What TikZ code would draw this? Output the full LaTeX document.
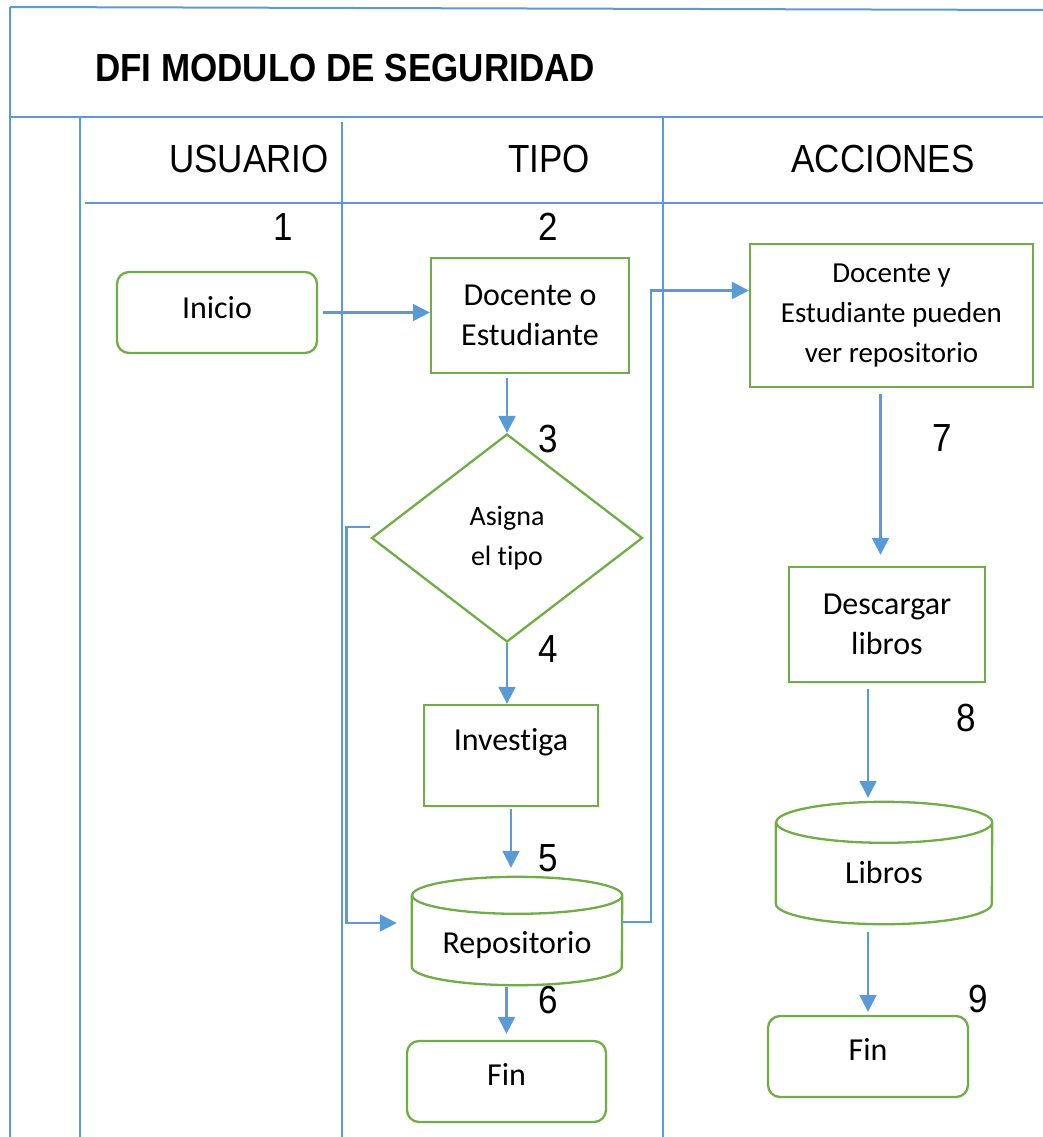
\documentclass[tikz,border=0pt]{standalone}
\usepackage{fontspec}
\usepackage{graphicx}
\setmainfont[Ligatures=NoCommon]{Carlito}
\newfontfamily\arialfont{Liberation Sans}
\usetikzlibrary{arrows.meta,shapes.geometric}
\definecolor{lineblue}{HTML}{5B9BD5}
\definecolor{boxgreen}{HTML}{70AD47}
\newcommand{\tall}[1]{\scalebox{1}[1.12]{#1}}
\begin{document}
\begin{tikzpicture}[x=1pt,y=-1pt,
  lane/.style={lineblue, line width=2pt},
  flow/.style={lineblue, line width=2.3pt, -{Triangle[length=17pt,width=17pt]}},
  box/.style={draw=boxgreen, line width=2.3pt, inner sep=0pt, align=center,
    font=\fontsize{32}{40}\selectfont},
  startstop/.style={box, rounded corners=12pt},
  decide/.style={box, diamond, font=\fontsize{28}{40}\selectfont},
  store/.style={inner sep=0pt, font=\fontsize{32}{40}\selectfont},
  outline/.style={draw=boxgreen, line width=2.3pt},
  head/.style={inner sep=0pt, font=\arialfont\fontsize{35}{40}\selectfont},
  num/.style={head, anchor=base}]
  \useasboundingbox (0,0) rectangle (1043,1137);
  %Frame and lanes
  \draw[lane] (10,7) -- (1043,10);
  \draw[lane] (10,7) -- (10,1137);
  \draw[lane] (10,117) -- (1043,117);
  \draw[lane] (80,117) -- (80,1137);
  \draw[lane] (342,122) -- (342,1137);
  \draw[lane] (663,117) -- (663,1137);
  \draw[lane] (85,203) -- (1043,203);
  %Title and lane headers
  \node[head, font=\arialfont\bfseries\fontsize{35}{40}\selectfont, anchor=base west] (title) at (95,82) {\tall{DFI MODULO DE SEGURIDAD}};
  \node[num] (usuario) at (249,172) {\tall{USUARIO}};
  \node[num] (tipo) at (549,172) {\tall{TIPO}};
  \node[num] (acciones) at (883,172) {\tall{ACCIONES}};
  %Step numbers
  \node[num] (n1) at (283,240) {\tall{1}};
  \node[num] (n2) at (548,240) {\tall{2}};
  \node[num] (n3) at (548,452) {\tall{3}};
  \node[num] (n4) at (548,662) {\tall{4}};
  \node[num] (n5) at (548,871) {\tall{5}};
  \node[num] (n6) at (548,1013) {\tall{6}};
  \node[num] (n7) at (942,451) {\tall{7}};
  \node[num] (n8) at (966,731) {\tall{8}};
  \node[num] (n9) at (978,1012) {\tall{9}};
  %Usuario and tipo lanes
  \node[startstop, minimum width=200pt, minimum height=81pt, text height=24pt, text depth=13pt] (inicio) at (217,312.5) {Inicio};
  \node[box, minimum width=198pt, minimum height=115pt] (docente) at (530,315.5) {Docente o\\Estudiante};
  \node[decide, minimum width=271pt, minimum height=208pt] (asigna) at (507,538) {Asigna\\el tipo};
  \node[box, minimum width=174pt, minimum height=101pt, text height=24pt, text depth=34pt] (investiga) at (511,755.5) {Investiga};
  \node[store, minimum width=210pt, minimum height=108pt, text height=50pt, text depth=6pt] (repo) at (517,931) {Repositorio};
  \draw[outline] ([yshift=-18.5pt]repo.north west) -- ([yshift=18.5pt]repo.south west)
    arc[start angle=180, end angle=360, x radius=105pt, y radius=18.5pt]
    -- ([yshift=-18.5pt]repo.north east)
    arc[start angle=0, end angle=360, x radius=105pt, y radius=18.5pt];
  \node[startstop, minimum width=199pt, minimum height=81pt, text height=24pt, text depth=16pt] (fintipo) at (506.5,1081.5) {Fin};
  %Acciones lane
  \node[box, minimum width=283pt, minimum height=143pt, font=\fontsize{29}{40}\selectfont] (ver) at (891.5,315.5) {Docente y\\Estudiante pueden\\ver repositorio};
  \node[box, minimum width=196pt, minimum height=115pt] (descargar) at (887,624.5) {Descargar\\libros};
  \node[store, minimum width=216pt, minimum height=122pt, text height=46pt, text depth=6pt] (libros) at (884,863) {Libros};
  \draw[outline] ([yshift=-20.5pt]libros.north west) -- ([yshift=20.5pt]libros.south west)
    arc[start angle=180, end angle=360, x radius=108pt, y radius=20.5pt]
    -- ([yshift=-20.5pt]libros.north east)
    arc[start angle=0, end angle=360, x radius=108pt, y radius=20.5pt];
  \node[startstop, minimum width=200pt, minimum height=81pt, text height=24pt, text depth=16pt] (finacc) at (868,1056.5) {Fin};
  %Flow
  \draw[flow, shorten <=5pt] (inicio.east) -- (inicio.east -| docente.west);
  \draw[flow, shorten <=4pt] (asigna.north |- docente.south) -- (asigna.north);
  \draw[flow] (asigna.south) -- (asigna.south |- investiga.north);
  \draw[flow, shorten <=2pt, shorten >=9pt] (investiga.south) -- (investiga.south |- repo.north);
  \draw[flow, shorten >=15pt] ([yshift=11pt]asigna.west) -- ++(-24,0) |- ([yshift=8pt]repo.west);
  \draw[flow] ([yshift=9pt]repo.east) -- ++(29,0) |- ([yshift=25pt]ver.west);
  \draw[flow, shorten <=2pt, shorten >=6pt] (repo.south -| fintipo.north) -- (fintipo.north);
  \draw[flow, shorten <=6pt, shorten >=11pt] ([xshift=-11pt]ver.south) -- ([xshift=-11pt]ver.south |- descargar.north);
  \draw[flow, shorten <=6pt, shorten >=4pt] (descargar.south -| finacc.north) -- (libros.north -| finacc.north);
  \draw[flow, shorten <=8pt, shorten >=3pt] (libros.south -| finacc.north) -- (finacc.north);
\end{tikzpicture}
\end{document}
